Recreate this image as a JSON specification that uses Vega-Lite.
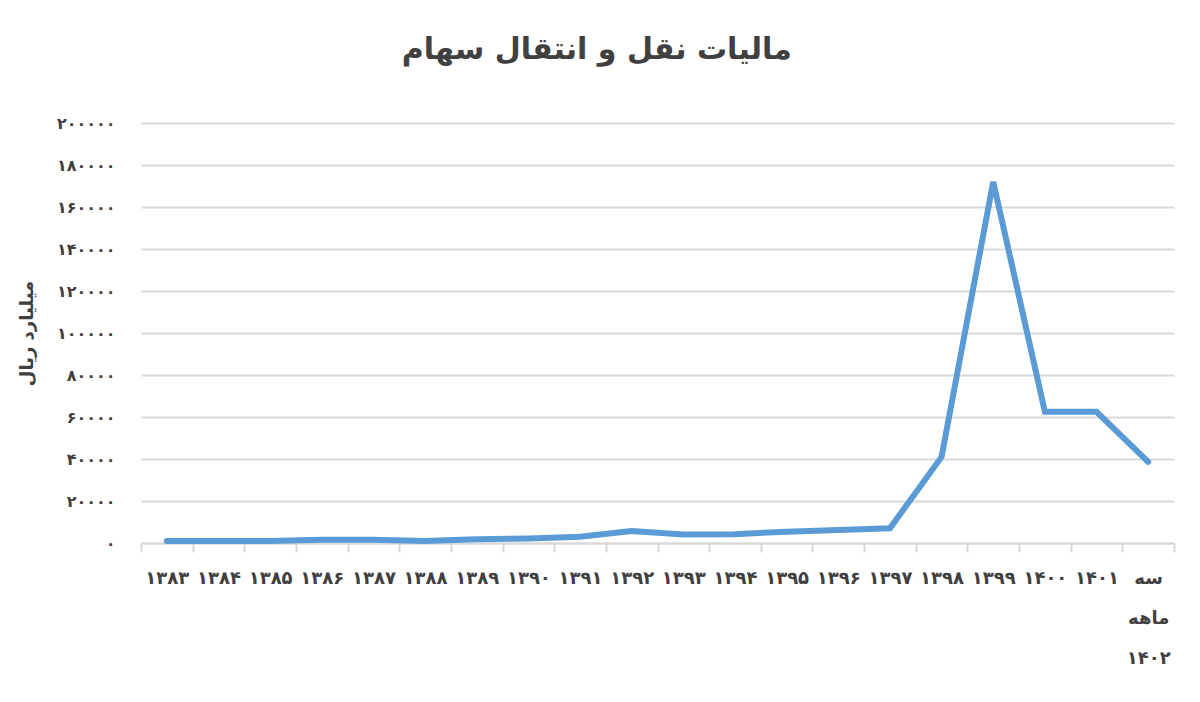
{
  "$schema": "https://vega.github.io/schema/vega-lite/v6.json",
  "width": 1033,
  "height": 420,
  "autosize": {"type": "none"},
  "padding": {"left": 141, "top": 123, "right": 26, "bottom": 159},
  "background": "white",
  "title": {
    "text": "مالیات نقل و انتقال سهام",
    "font": "DejaVu Sans",
    "fontSize": 30,
    "fontWeight": "bold",
    "color": "#404040",
    "anchor": "middle",
    "frame": "bounds",
    "offset": 50
  },
  "data": {
    "values": [
      {"year": "۱۳۸۳", "value": 1000},
      {"year": "۱۳۸۴", "value": 1000},
      {"year": "۱۳۸۵", "value": 1000},
      {"year": "۱۳۸۶", "value": 1600},
      {"year": "۱۳۸۷", "value": 1600},
      {"year": "۱۳۸۸", "value": 1000},
      {"year": "۱۳۸۹", "value": 1800},
      {"year": "۱۳۹۰", "value": 2200},
      {"year": "۱۳۹۱", "value": 3000},
      {"year": "۱۳۹۲", "value": 5700},
      {"year": "۱۳۹۳", "value": 4100},
      {"year": "۱۳۹۴", "value": 4200},
      {"year": "۱۳۹۵", "value": 5400},
      {"year": "۱۳۹۶", "value": 6200},
      {"year": "۱۳۹۷", "value": 7000},
      {"year": "۱۳۹۸", "value": 41000},
      {"year": "۱۳۹۹", "value": 172000},
      {"year": "۱۴۰۰", "value": 62500},
      {"year": "۱۴۰۱", "value": 62500},
      {"year": "سه ماهه ۱۴۰۲", "value": 38600}
    ]
  },
  "mark": {"type": "line", "color": "#5b9bd5", "strokeWidth": 6, "strokeJoin": "miter", "strokeCap": "round"},
  "encoding": {
    "x": {
      "field": "year",
      "type": "nominal",
      "sort": null,
      "scale": {"paddingInner": 0, "paddingOuter": 0},
      "axis": {
        "title": null,
        "labelAngle": 0,
        "labelExpr": "split(datum.label, ' ')",
        "labelFont": "DejaVu Sans",
        "labelFontSize": 18,
        "labelFontWeight": "bold",
        "labelColor": "#404040",
        "labelPadding": 26,
        "labelLineHeight": 40,
        "labelBaseline": "middle",
        "domainColor": "#d9d9d9",
        "domainWidth": 2,
        "tickColor": "#d9d9d9",
        "tickWidth": 2,
        "tickSize": 9,
        "tickBand": "extent",
        "grid": false
      }
    },
    "y": {
      "field": "value",
      "type": "quantitative",
      "scale": {"domain": [0, 200000], "nice": false},
      "axis": {
        "title": "میلیارد ریال",
        "titleFont": "DejaVu Sans",
        "titleFontSize": 18,
        "titleFontWeight": "bold",
        "titleColor": "#404040",
        "titlePadding": 20,
        "values": [0, 20000, 40000, 60000, 80000, 100000, 120000, 140000, 160000, 180000, 200000],
        "labelExpr": "replace(replace(replace(replace(replace(replace(replace(replace(replace(replace(format(datum.value, 'd'), regexp('0','g'), '۰'), regexp('1','g'), '۱'), regexp('2','g'), '۲'), regexp('3','g'), '۳'), regexp('4','g'), '۴'), regexp('5','g'), '۵'), regexp('6','g'), '۶'), regexp('7','g'), '۷'), regexp('8','g'), '۸'), regexp('9','g'), '۹')",
        "labelFont": "DejaVu Sans",
        "labelFontSize": 16,
        "labelFontWeight": "bold",
        "labelColor": "#404040",
        "labelPadding": 26,
        "domain": false,
        "ticks": false,
        "gridColor": "#d9d9d9",
        "gridWidth": 2
      }
    }
  },
  "config": {"view": {"stroke": null}}
}
